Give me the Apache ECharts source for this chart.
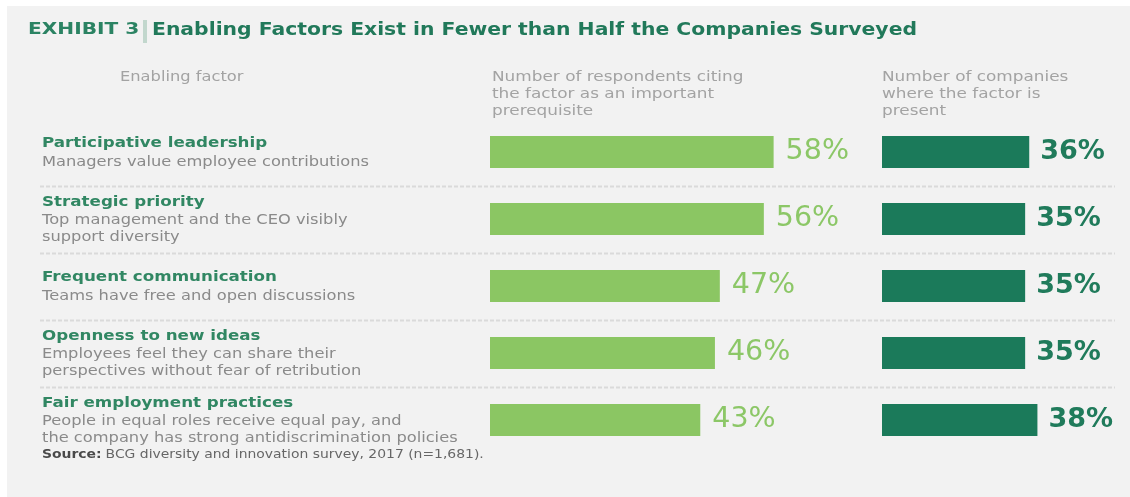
<!DOCTYPE html>
<html>
<head>
<meta charset="utf-8">
<script src="https://cdn.jsdelivr.net/npm/echarts@6/dist/echarts.min.js"></script>
<style>
  html, body { margin: 0; padding: 0; background: #ffffff; }
  #chart { width: 1130px; height: 497px; }
</style>
</head>
<body>
<div id="chart"></div>
<script>
// Enabling factors, one row each
const factors = [
  'Participative leadership',
  'Strategic priority',
  'Frequent communication',
  'Openness to new ideas',
  'Fair employment practices'
];
const descriptions = [
  'Managers value employee contributions',
  'Top management and the CEO visibly\nsupport diversity',
  'Teams have free and open discussions',
  'Employees feel they can share their\nperspectives without fear of retribution',
  'People in equal roles receive equal pay, and\nthe company has strong antidiscrimination policies'
];
// Share of respondents citing the factor as an important prerequisite (%)
const citedShare = [58, 56, 47, 46, 43];
// Share of companies where the factor is present (%)
const presentShare = [36, 35, 35, 35, 38];

const exhibitText = 'EXHIBIT 3';
const titleText = 'Enabling Factors Exist in Fewer than Half the Companies Surveyed';
const factorHeader = 'Enabling factor';
const citedHeader = 'Number of respondents citing\nthe factor as an important\nprerequisite';
const presentHeader = 'Number of companies\nwhere the factor is\npresent';
const sourceLabel = 'Source:';
const sourceText = 'BCG diversity and innovation survey, 2017 (n=1,681).';

const FAMILY = '"DejaVu Sans", "Open Sans", sans-serif';
const WIDE = 1.18;           // horizontal stretch of the typeface
const LIGHT = '#8bc663';
const DARK = '#1b7a5a';

const chart = echarts.init(document.getElementById('chart'), null, { renderer: 'canvas' });

const gridTop = 118.5, gridHeight = 335;

function txt(x, y, text, size, weight, fill, extra, scale) {
  return {
    type: 'text', x: x, y: y, scaleX: scale || WIDE,
    style: Object.assign({
      text: text, fontSize: size, fontWeight: weight, fontFamily: FAMILY,
      fill: fill, textVerticalAlign: 'middle'
    }, extra || {})
  };
}

const staticGraphics = [
  { type: 'rect', z: -10, shape: { x: 7, y: 6, width: 1123, height: 491 }, style: { fill: '#f2f2f2' } },
  txt(28, 30, exhibitText, 15.5, 'bold', '#2b8363', null, 1.3),
  { type: 'rect', shape: { x: 143, y: 20, width: 4, height: 23 }, style: { fill: '#c2d7cd' } },
  txt(152, 30, titleText, 18, 'bold', '#21795a', null, 1.13),
  txt(120, 77, factorHeader, 13.8, 'normal', '#a3a3a3'),
  txt(492, 94, citedHeader, 14.3, 'normal', '#a3a3a3', { lineHeight: 17 }),
  txt(882, 94, presentHeader, 14.3, 'normal', '#a3a3a3', { lineHeight: 17 }),
  {
    type: 'text', x: 42, y: 455, scaleX: 1.2,
    style: {
      text: '{b|' + sourceLabel + '} {n|' + sourceText + '}',
      textVerticalAlign: 'middle',
      rich: {
        b: { fontSize: 11.6, fontWeight: 'bold', fontFamily: FAMILY, fill: '#4a4a4a' },
        n: { fontSize: 11.6, fontFamily: FAMILY, fill: '#666666' }
      }
    }
  }
];

const option = {
  backgroundColor: '#ffffff',
  animation: false,
  graphic: staticGraphics,
  grid: [
    { left: 490, top: gridTop, width: 70 * 4.89, height: gridHeight },
    { left: 882, top: gridTop, width: 55 * 4.09, height: gridHeight }
  ],
  xAxis: [
    { gridIndex: 0, type: 'value', min: 0, max: 70, show: false },
    { gridIndex: 1, type: 'value', min: 0, max: 55, show: false }
  ],
  yAxis: [
    { gridIndex: 0, type: 'category', inverse: true, data: factors, show: false },
    { gridIndex: 1, type: 'category', inverse: true, data: factors, show: false }
  ],
  series: [
    {
      type: 'bar', xAxisIndex: 0, yAxisIndex: 0, data: citedShare, barWidth: 32,
      itemStyle: { color: LIGHT },
      label: {
        show: true, position: 'right', distance: 12, formatter: '{c}%',
        fontFamily: FAMILY, fontSize: 28.5, color: '#8cc767'
      }
    },
    {
      type: 'bar', xAxisIndex: 1, yAxisIndex: 1, data: presentShare, barWidth: 32,
      itemStyle: { color: DARK },
      label: {
        show: true, position: 'right', distance: 11, formatter: '{c}%',
        fontFamily: FAMILY, fontSize: 27, fontWeight: 'bold', color: '#207b5b'
      }
    }
  ]
};

chart.setOption(option);

// Row text blocks and dashed separators, placed from the category axis
const rowGraphics = [];
factors.forEach(function (name, i) {
  const yc = chart.convertToPixel({ yAxisIndex: 0 }, name);
  const lines = descriptions[i].split('\n').map(function (l) { return '{d|' + l + '}'; });
  rowGraphics.push({
    type: 'text', x: 42, y: yc, scaleX: 1.13,
    style: {
      text: '{n|' + name + '}\n' + lines.join('\n'),
      textVerticalAlign: 'middle',
      rich: {
        n: { fontSize: 14.8, fontWeight: 'bold', fontFamily: FAMILY, fill: '#318763', lineHeight: 20 },
        d: { fontSize: 14.4, fontFamily: FAMILY, fill: '#8a8a8a', lineHeight: 17 }
      }
    }
  });
  if (i < factors.length - 1) {
    const yn = chart.convertToPixel({ yAxisIndex: 0 }, factors[i + 1]);
    const y = Math.round((yc + yn) / 2) + 0.5;
    rowGraphics.push({
      type: 'line', z: -5,
      shape: { x1: 40, y1: y, x2: 1115, y2: y },
      style: { stroke: '#dadada', lineWidth: 2, lineDash: [4, 2] }
    });
  }
});
chart.setOption({ graphic: staticGraphics.concat(rowGraphics) });
</script>
</body>
</html>
